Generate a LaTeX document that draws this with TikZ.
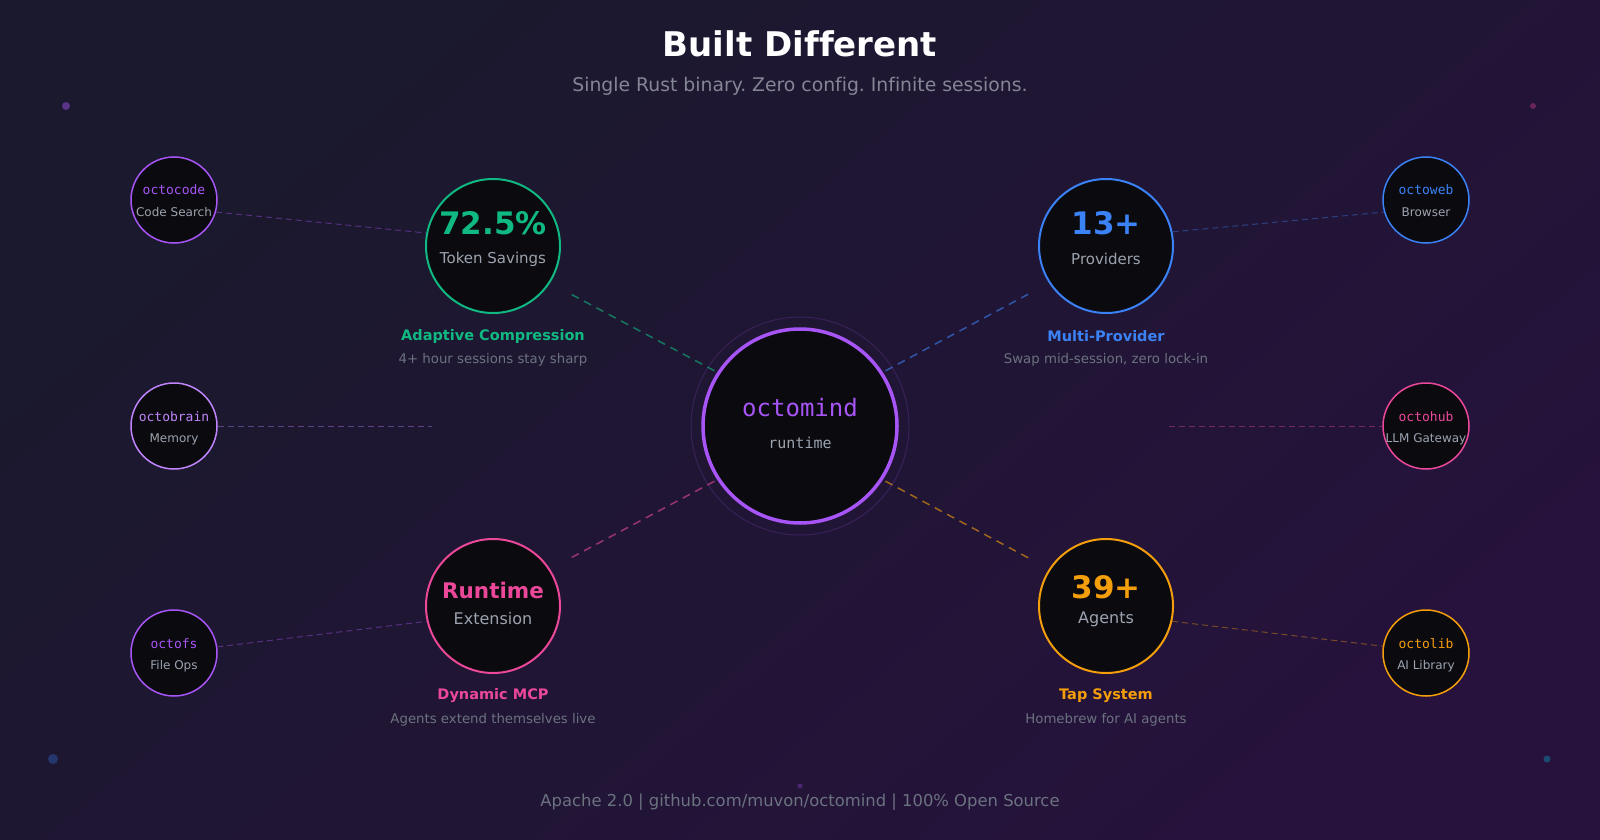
\documentclass[tikz,border=0pt]{standalone}
\usepackage{fontspec}
\setmainfont[Ligatures=NoCommon]{DejaVu Sans}
\setmonofont{DejaVu Sans Mono}
\usetikzlibrary{calc}
\frenchspacing

\definecolor{bgtop}{HTML}{1A192D}
\definecolor{bgmid}{HTML}{1D1530}
\definecolor{bgbot}{HTML}{26123C}
\definecolor{corefill}{HTML}{0A0A0F}
\definecolor{octopurple}{HTML}{A855F7}
\definecolor{octolav}{HTML}{C084FC}
\definecolor{octogreen}{HTML}{10B981}
\definecolor{octoblue}{HTML}{3B82F6}
\definecolor{octopink}{HTML}{EC4899}
\definecolor{octoamber}{HTML}{F59E0B}
\definecolor{octoteal}{HTML}{06B6D4}
\definecolor{softgray}{HTML}{9CA3AF}
\definecolor{dimgray}{HTML}{6B7280}
\definecolor{subgray}{HTML}{858596}

\newcommand{\pxfont}[1]{\fontsize{#1}{#1}\selectfont}

\pgfdeclarelayer{back}
\pgfdeclarelayer{links}
\pgfsetlayers{back,links,main}

\tikzset{
    feature/.style={circle, draw=#1, line width=2pt, fill=corefill, minimum size=134pt, inner sep=0pt},
    satellite/.style={circle, draw=#1, line width=1.5pt, fill=corefill, minimum size=86pt, inner sep=0pt},
    spoke/.style={draw=#1, draw opacity=0.6, line width=1.5pt, dash pattern=on 8pt off 6pt, shorten <=3pt, shorten >=19pt},
    tether/.style={draw=#1, draw opacity=0.4, line width=1pt, dash pattern=on 6pt off 4pt},
    bignum/.style={font=\bfseries\pxfont{31}},
    numlabel/.style={font=\pxfont{15}, text=softgray},
    headline/.style={font=\bfseries\pxfont{14.5}},
    blurb/.style={font=\pxfont{13.3}, text=dimgray},
    toolname/.style={font=\ttfamily\pxfont{13}},
    toolrole/.style={font=\pxfont{12}, text=softgray}
}

\begin{document}
\begin{tikzpicture}[x=1pt, y=-1pt]
    \useasboundingbox (0,0) rectangle (1600,840);

    % backdrop
    \begin{pgfonlayer}{back}
        \shade[top color=bgtop, middle color=bgmid, bottom color=bgbot, shading angle=40] (0,0) rectangle (1600,840);
        \fill[octopurple, opacity=0.45] (66,106) circle (4);
        \fill[octopink, opacity=0.35] (1533,106) circle (3);
        \fill[octoblue, opacity=0.3] (53,759) circle (5);
        \fill[octoteal, opacity=0.35] (1547,759) circle (3.5);
        \fill[octopurple, opacity=0.3] (800,786) circle (2.5);
    \end{pgfonlayer}

    % heading
    \node (title) at (800,44) [font=\bfseries\pxfont{34}, text=white] {Built Different};
    \node (subtitle) at (800,86) [font=\pxfont{18.8}, text=subgray] {Single Rust binary. Zero config. Infinite sessions.};

    % core
    \node (halo) at (800,426) [circle, draw=octopurple, draw opacity=0.18, line width=1pt, minimum size=218pt] {};
    \node (core) at (800,426) [circle, draw=octopurple, line width=3.5pt, fill=corefill, minimum size=194pt] {};
    \node (corename) at (800,408) [font=\ttfamily\pxfont{24}, text=octopurple] {octomind};
    \node (corerole) at (800,443) [font=\ttfamily\pxfont{15}, text=softgray] {runtime};

    % features
    \node (tok) at (493,246) [feature=octogreen] {};
    \node (tokval) at (493,223) [bignum, text=octogreen] {72.5\%};
    \node (toklbl) at (493,259) [numlabel] {Token Savings};
    \node (tokhead) at (493,336) [headline, text=octogreen] {Adaptive Compression};
    \node (tokblurb) at (493,360) [blurb] {4+ hour sessions stay sharp};

    \node (prov) at (1106,246) [feature=octoblue] {};
    \node (provval) at (1106,223) [bignum, text=octoblue] {13+};
    \node (provlbl) at (1106,259) [numlabel] {Providers};
    \node (provhead) at (1106,336) [headline, text=octoblue] {Multi-Provider};
    \node (provblurb) at (1106,360) [blurb] {Swap mid-session, zero lock-in};

    \node (ext) at (493,606) [feature=octopink] {};
    \node (extval) at (493,590) [font=\bfseries\pxfont{21.5}, text=octopink] {Runtime};
    \node (extlbl) at (493,619) [numlabel, font=\pxfont{16}] {Extension};
    \node (exthead) at (493,696) [headline, text=octopink] {Dynamic MCP};
    \node (extblurb) at (493,720) [blurb] {Agents extend themselves live};

    \node (agt) at (1106,606) [feature=octoamber] {};
    \node (agtval) at (1106,587) [bignum, text=octoamber] {39+};
    \node (agtlbl) at (1106,619) [numlabel, font=\pxfont{16}] {Agents};
    \node (agthead) at (1106,696) [headline, text=octoamber] {Tap System};
    \node (agtblurb) at (1106,720) [blurb] {Homebrew for AI agents};

    % satellites
    \node (code) at (174,200) [satellite=octopurple] {};
    \node (codename) at (174,190) [toolname, text=octopurple] {octocode};
    \node (coderole) at (174,212) [toolrole] {Code Search};

    \node (brain) at (174,426) [satellite=octolav] {};
    \node (brainname) at (174,417) [toolname, text=octolav] {octobrain};
    \node (brainrole) at (174,439) [toolrole] {Memory};

    \node (fs) at (174,653) [satellite=octopurple] {};
    \node (fsname) at (174,644) [toolname, text=octopurple] {octofs};
    \node (fsrole) at (174,666) [toolrole] {File Ops};

    \node (web) at (1426,200) [satellite=octoblue] {};
    \node (webname) at (1426,190) [toolname, text=octoblue] {octoweb};
    \node (webrole) at (1426,212) [toolrole] {Browser};

    \node (hub) at (1426,426) [satellite=octopink] {};
    \node (hubname) at (1426,417) [toolname, text=octopink] {octohub};
    \node (hubrole) at (1426,439) [toolrole] {LLM Gateway};

    \node (lib) at (1426,653) [satellite=octoamber] {};
    \node (libname) at (1426,644) [toolname, text=octoamber] {octolib};
    \node (librole) at (1426,666) [toolrole] {AI Library};

    \coordinate (brainend) at (432,426);
    \coordinate (hubend) at (1169,426);

    % links
    \begin{pgfonlayer}{links}
        \draw[spoke=octogreen] (core.147) -- (tok.-33);
        \draw[spoke=octoblue] (core.33) -- (prov.213);
        \draw[spoke=octopink] (core.213) -- (ext.33);
        \draw[spoke=octoamber] (core.-33) -- (agt.147);

        \draw[tether=octopurple] (code.-16) -- (tok.169);
        \draw[tether=octolav] (brain.east) -- (brainend);
        \draw[tether=octopurple] (fs.8) -- (ext.193);
        \draw[tether=octoblue] (prov.12) -- (web.196);
        \draw[tether=octopink] (hubend) -- (hub.west);
        \draw[tether=octoamber] (agt.-13) -- (lib.171);
    \end{pgfonlayer}

    % footer
    \node (footer) at (800,802) [font=\pxfont{16.4}, text=dimgray] {Apache 2.0 | github.com/muvon/octomind | 100\% Open Source};
\end{tikzpicture}
\end{document}
